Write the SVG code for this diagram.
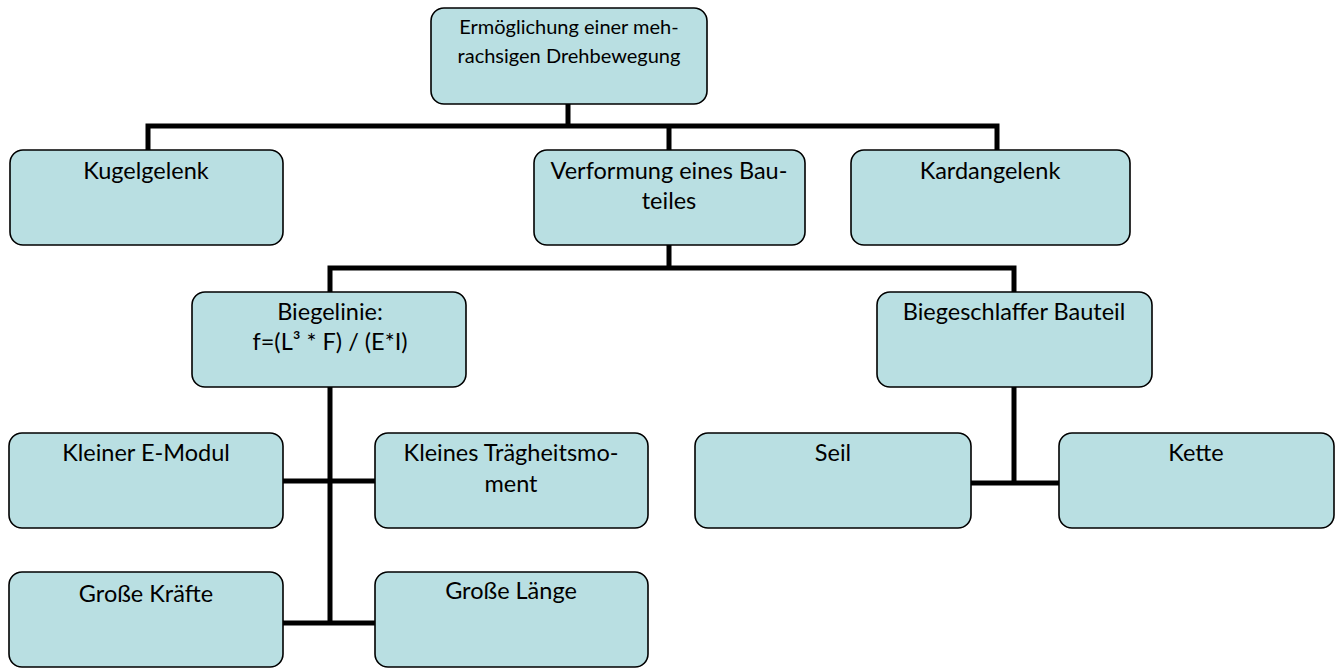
<svg xmlns="http://www.w3.org/2000/svg" width="1341" height="670" viewBox="0 0 1341 670">
  <style>
    .box { fill: #b9dfe2; stroke: #000; stroke-width: 1.6; }
    .lbl { font-family: Lato, "Liberation Sans", sans-serif; font-size: 23.5px; fill: #000; text-anchor: middle; }
    .sm { font-size: 20px; }
    .wire { fill: none; stroke: #000; stroke-width: 5; stroke-linecap: butt; stroke-linejoin: miter; }
  </style>
  <rect width="1341" height="670" fill="#fff"/>

  <!-- connectors -->
  <g id="connectors" class="wire">
    <path d="M568,104 V126 M148,150 V126 H997 V150 M669,126 V150"/>
    <path d="M669,245 V268 M330,292 V268 H1014 V292"/>
    <path d="M330,387 V624 M283,481 H375 M283,623 H375"/>
    <path d="M1014,387 V484 M971,483 H1059"/>
  </g>

  <g id="n-root">
    <rect class="box" x="431" y="8" width="276" height="96" rx="13"/>
    <text class="lbl sm" x="569" y="34">Ermöglichung einer meh-</text>
    <text class="lbl sm" x="569" y="63">rachsigen Drehbewegung</text>
  </g>
  <g id="n-kugel">
    <rect class="box" x="10" y="150" width="273" height="95" rx="13"/>
    <text class="lbl" x="146" y="179">Kugelgelenk</text>
  </g>
  <g id="n-verformung">
    <rect class="box" x="534" y="150" width="271" height="95" rx="13"/>
    <text class="lbl" x="669" y="179">Verformung eines Bau-</text>
    <text class="lbl" x="669" y="209">teiles</text>
  </g>
  <g id="n-kardan">
    <rect class="box" x="851" y="150" width="279" height="95" rx="13"/>
    <text class="lbl" x="990" y="179">Kardangelenk</text>
  </g>
  <g id="n-biegelinie">
    <rect class="box" x="192" y="292" width="274" height="95" rx="13"/>
    <text class="lbl" x="330" y="320">Biegelinie:</text>
    <text class="lbl" x="330" y="350">f=(L³ * F) / (E*I)</text>
  </g>
  <g id="n-biegeschlaff">
    <rect class="box" x="877" y="292" width="275" height="95" rx="13"/>
    <text class="lbl" x="1014" y="320">Biegeschlaffer Bauteil</text>
  </g>
  <g id="n-emodul">
    <rect class="box" x="9" y="433" width="274" height="95" rx="13"/>
    <text class="lbl" x="146" y="461">Kleiner E-Modul</text>
  </g>
  <g id="n-traegheit">
    <rect class="box" x="375" y="433" width="273" height="95" rx="13"/>
    <text class="lbl" x="511" y="461">Kleines Trägheitsmo-</text>
    <text class="lbl" x="511" y="492">ment</text>
  </g>
  <g id="n-kraefte">
    <rect class="box" x="9" y="572" width="274" height="95" rx="13"/>
    <text class="lbl" x="146" y="602">Große Kräfte</text>
  </g>
  <g id="n-laenge">
    <rect class="box" x="375" y="572" width="273" height="95" rx="13"/>
    <text class="lbl" x="511" y="599">Große Länge</text>
  </g>
  <g id="n-seil">
    <rect class="box" x="695" y="433" width="276" height="95" rx="13"/>
    <text class="lbl" x="833" y="461">Seil</text>
  </g>
  <g id="n-kette">
    <rect class="box" x="1059" y="433" width="275" height="95" rx="13"/>
    <text class="lbl" x="1196" y="461">Kette</text>
  </g>
</svg>
